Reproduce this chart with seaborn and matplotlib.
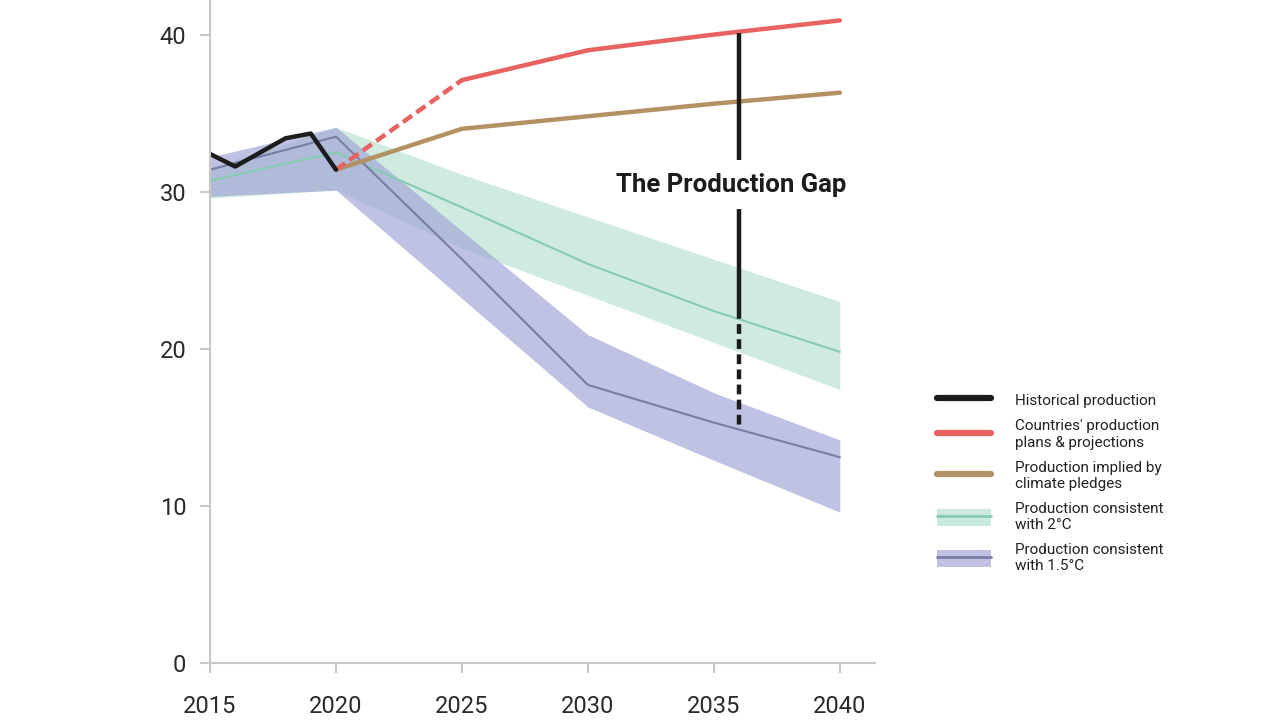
import numpy as np
import pandas as pd
import seaborn as sns
import matplotlib.pyplot as plt
from matplotlib.lines import Line2D
from matplotlib.patches import Patch

# historical production
hist_years = [2015, 2016, 2017, 2018, 2019, 2020]
hist_vals = [32.4, 31.6, 32.5, 33.4, 33.7, 31.4]

# projections (5-year steps)
proj_years = [2020, 2025, 2030, 2035, 2040]
plans_vals = [31.4, 37.1, 39.0, 40.0, 40.9]
pledges_vals = [31.4, 34.0, 34.8, 35.6, 36.3]

scen_years = [2015, 2020, 2025, 2030, 2035, 2040]
two_mid = [30.7, 32.5, 29.0, 25.4, 22.4, 19.8]
two_hi = [31.5, 34.1, 31.1, 28.4, 25.7, 23.0]
two_lo = [29.6, 30.1, 26.4, 23.4, 20.4, 17.4]
one5_mid = [31.4, 33.5, 25.7, 17.7, 15.3, 13.1]
one5_hi = [32.2, 34.1, 27.5, 20.9, 17.2, 14.2]
one5_lo = [29.7, 30.1, 23.2, 16.3, 12.9, 9.6]

# the production gap marker
gap_year = 2036
gap_top = 40.1
gap_text_y = 30.4
gap_solid_end = 32.0
gap_mid_start = 28.9
gap_mid_end = 22.5
gap_bottom = 15.0

labels = ['Historical production', "Countries' production\nplans & projections",
          'Production implied by\nclimate pledges', 'Production consistent\nwith 2°C',
          'Production consistent\nwith 1.5°C']

c_black = '#1c1c1c'
c_red = '#e8625f'
c_brown = '#b39163'
c_green_fill = '#a9dcc8'
c_green_line = '#86cbb2'
c_blue_fill = '#9fa2d6'
c_blue_line = '#7a7ca6'
c_axis = '#c8c8c8'

sns.set_style('white')
plt.rcParams['font.family'] = ['Roboto', 'DejaVu Sans']

fig = plt.figure(figsize=(12.79, 7.2), dpi=100)
ax = fig.add_axes([0.1642, 0.0792, 0.52, 0.9208])

hist = pd.DataFrame({'year': hist_years, 'value': hist_vals})
proj = pd.DataFrame({'year': proj_years, 'plans': plans_vals, 'pledges': pledges_vals})
scen = pd.DataFrame({'year': scen_years, 'two_mid': two_mid, 'two_hi': two_hi, 'two_lo': two_lo,
                     'one5_mid': one5_mid, 'one5_hi': one5_hi, 'one5_lo': one5_lo})

# scenario bands
ax.fill_between(scen['year'], scen['two_lo'], scen['two_hi'], color=c_green_fill, alpha=0.55, lw=0)
ax.fill_between(scen['year'], scen['one5_lo'], scen['one5_hi'], color=c_blue_fill, alpha=0.65, lw=0)
sns.lineplot(data=scen, x='year', y='two_mid', color=c_green_line, lw=1.5, ax=ax)
sns.lineplot(data=scen, x='year', y='one5_mid', color=c_blue_line, lw=1.5, ax=ax)

# pledges and plans
sns.lineplot(data=proj, x='year', y='pledges', color=c_brown, lw=3.2, ax=ax)
sns.lineplot(data=proj.iloc[:2], x='year', y='plans', color=c_red, lw=3.2, ax=ax,
             linestyle=(0, (2.5, 1.2)))
sns.lineplot(data=proj.iloc[1:], x='year', y='plans', color=c_red, lw=3.2, ax=ax)

# historical
sns.lineplot(data=hist, x='year', y='value', color=c_black, lw=3.2, ax=ax)

# gap annotation
ax.plot([gap_year, gap_year], [gap_top, gap_solid_end], color=c_black, lw=3.2, solid_capstyle='butt')
ax.plot([gap_year, gap_year], [gap_mid_start, gap_mid_end], color=c_black, lw=3.2, solid_capstyle='butt')
ax.plot([gap_year, gap_year], [gap_mid_end, gap_bottom], color=c_black, lw=3.2,
        linestyle=(0, (2.2, 1.2)), dash_capstyle='butt')
ax.text(gap_year - 0.3, gap_text_y, 'The Production Gap', ha='center', va='center',
        fontsize=18.5, fontweight='bold', color=c_black)

ax.set_xlim(2015, 2041.4)
ax.set_ylim(0, 42.2)
ax.set_xticks([2015, 2020, 2025, 2030, 2035, 2040])
ax.set_yticks([0, 10, 20, 30, 40])
ax.set_xlabel('')
ax.set_ylabel('')
sns.despine(ax=ax)
for s in ['left', 'bottom']:
    ax.spines[s].set_color(c_axis)
    ax.spines[s].set_linewidth(1.5)
ax.tick_params(axis='both', which='both', labelsize=17, colors=c_axis, labelcolor='#2a2a2a',
               length=7, width=1.5, direction='out', bottom=True, left=True)
ax.tick_params(axis='x', pad=16)
ax.tick_params(axis='y', pad=10)

# legend
handles = [Line2D([], [], color=c_black, lw=4.5),
           Line2D([], [], color=c_red, lw=4.5),
           Line2D([], [], color=c_brown, lw=4.5),
           (Patch(facecolor=c_green_fill, alpha=0.6, lw=0), Line2D([], [], color=c_green_line, lw=2)),
           (Patch(facecolor=c_blue_fill, alpha=0.65, lw=0), Line2D([], [], color=c_blue_line, lw=2))]
ax.legend(handles, labels, loc='upper left', bbox_to_anchor=(0.722, 0.475),
          bbox_transform=fig.transFigure, frameon=False, fontsize=11,
          handlelength=3.5, handleheight=1.3, handletextpad=1.6, labelspacing=0.72,
          labelcolor='#222222')

fig.savefig('out.png', dpi=100)
